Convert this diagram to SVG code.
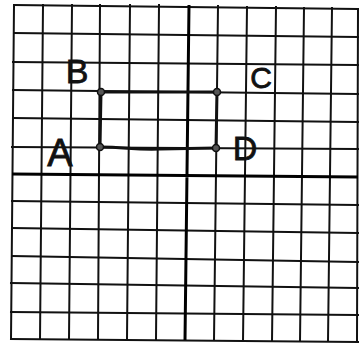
<svg xmlns="http://www.w3.org/2000/svg" width="360" height="345" viewBox="0 0 360 345">
<style>
.g{stroke:#111;stroke-width:2;fill:none;stroke-linecap:square}
.ax{stroke:#000;stroke-width:3;fill:none}
.e{stroke:#111;stroke-width:3;fill:none;stroke-linecap:round}
.pt{fill:#555;stroke:#111;stroke-width:1.5}
.lb{font-family:"Liberation Sans",Arial,sans-serif;fill:#111;stroke:#111;stroke-width:0.8;text-anchor:middle}
</style>
<rect width="360" height="345" fill="#fff"/>
<g id="grid">
<path class="g" d="M14,5L11,339 M43,5L40,339 M72,5L69,339 M100,5L98,339 M130,5L127,339 M159,5L156,339 M218,6L214,340 M247,7L243,341 M276,7L272,341 M304,8L300,341 M332,8L328,341 M358,9L357,342"/>
<path class="g" d="M14,5L358,9 M14,33L358,37 M13,62L358,65 M13,90L358,94 M13,118L358,122 M12,147L358,149 M12,201L358,205 M12,228L358,233 M12,256L358,262 M11,283L358,288 M11,312L358,315 M11,339L358,342"/>
<path class="ax" d="M189,5L185,340 M12,174L358,177"/>
</g>
<g id="connectors">
<path class="e" d="M101,92L217,92"/>
<path class="e" d="M217,92L216,148"/>
<path class="e" d="M100,147C125,147 135,150 160,149L216,148"/>
<path class="e" d="M100,147L101,92"/>
</g>
<g id="B"><circle class="pt" cx="101" cy="92" r="3.5"/><text class="lb" x="77" y="83" font-size="34">B</text></g>
<g id="C"><circle class="pt" cx="217" cy="92" r="3.5"/><text class="lb" x="261" y="88" font-size="30">C</text></g>
<g id="A"><circle class="pt" cx="100" cy="147" r="3.5"/><text class="lb" x="60" y="166" font-size="38">A</text></g>
<g id="D"><circle class="pt" cx="216" cy="148" r="3.5"/><text class="lb" x="245" y="160" font-size="34">D</text></g>
</svg>
